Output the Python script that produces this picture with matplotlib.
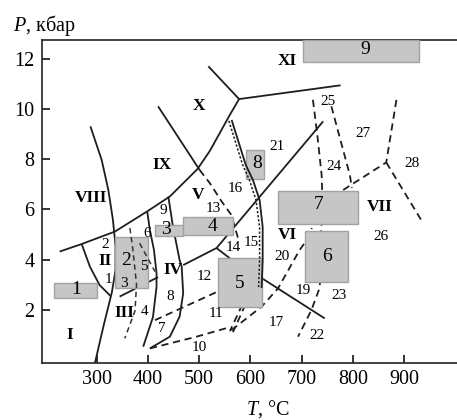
import matplotlib
matplotlib.use('Agg')
import matplotlib.pyplot as plt
from matplotlib.patches import Rectangle

plt.rcParams['font.family'] = ['Liberation Serif', 'DejaVu Serif']
plt.rcParams['mathtext.fontset'] = 'custom'
plt.rcParams['mathtext.it'] = 'Liberation Serif:italic'
plt.rcParams['mathtext.rm'] = 'Liberation Serif'

# phase boundaries, T in degC, P in kbar
viii_T = [288, 310, 323, 332, 337, 337, 330, 314, 297]
viii_P = [9.32, 7.98, 6.78, 5.58, 4.54, 3.58, 2.70, 1.38, -0.12]

long_T = [228, 271, 336, 400, 443, 497, 521, 560, 578]
long_P = [4.32, 4.62, 5.12, 5.94, 6.52, 7.62, 8.34, 9.78, 10.41]

xi_T = [518, 578, 776]
xi_P = [11.72, 10.41, 10.96]

ixx_T = [420, 501]
ixx_P = [10.12, 7.58]
ixx_dash_T = [501, 521, 544, 563, 576]
ixx_dash_P = [7.58, 7.05, 6.32, 5.78, 4.85]

a_T = [399, 404, 412, 417, 417, 410, 391]
a_P = [5.90, 5.18, 4.38, 3.46, 2.90, 1.70, 0.52]

b_T = [440, 449, 462, 466, 469, 462, 443, 404]
b_P = [6.52, 5.32, 3.98, 3.72, 2.65, 1.72, 0.92, 0.45]

c_T = [271, 287, 306, 327]
c_P = [4.62, 3.72, 2.98, 2.55]

d_T = [345, 420]
d_P = [2.52, 3.30]

j2_T = [469, 534, 742]
j2_P = [3.78, 4.46, 9.52]
j2b_T = [534, 560]
j2b_P = [4.46, 4.05]

s_T = [564, 591, 605, 618, 624, 624, 622]
s_P = [9.54, 7.78, 7.18, 6.38, 5.30, 3.98, 2.90]
sd_T = [558, 585, 598, 611, 618, 618, 616]
sd_P = [9.54, 7.78, 7.18, 6.38, 5.30, 3.98, 2.90]
s_low_T = [622, 588, 566]
s_low_P = [2.90, 2.10, 1.10]
sd_low_T = [616, 582, 560]
sd_low_P = [2.90, 2.10, 1.14]

k_T = [622, 745]
k_P = [3.26, 1.65]

g_T = [414, 534]
g_P = [1.58, 2.70]

h_T = [404, 495, 560]
h_P = [0.45, 0.92, 1.30]

i_T = [563, 622, 654, 696, 708, 720]
i_P = [1.18, 2.12, 2.85, 4.38, 4.72, 5.26]

m_T = [722, 731, 739, 741, 737, 737, 735, 719, 693]
m_P = [10.38, 8.90, 7.38, 6.18, 4.78, 3.50, 2.86, 1.98, 0.92]

n_T = [758, 794, 798]
n_P = [10.12, 7.38, 6.86]

o_T = [781, 865, 886]
o_P = [6.78, 7.88, 10.52]
o2_T = [865, 937]
o2_P = [7.88, 5.45]

e_T = [365, 371, 378, 375, 355]
e_P = [5.26, 4.38, 3.00, 1.95, 0.85]
f_T = [384, 414]
f_P = [4.65, 3.52]

# sample boxes
box_names = ['1', '2', '3', '4', '5', '6', '7', '8', '9']
box_T0 = [217, 336, 414, 468, 537, 706, 654, 592, 702]
box_T1 = [300, 401, 469, 567, 622, 790, 810, 626, 928]
box_P0 = [2.45, 2.85, 4.94, 4.98, 2.12, 3.11, 5.42, 7.21, 11.91]
box_P1 = [3.08, 4.92, 5.38, 5.68, 4.05, 5.14, 6.74, 8.38, 12.77]
box_lab_T = [260, 357, 435, 527, 579, 750, 734, 613, 824]
box_lab_P = [2.81, 3.98, 5.22, 5.34, 3.06, 4.14, 6.18, 7.85, 12.38]

roman = ['I', 'II', 'III', 'IV', 'V', 'VI', 'VII', 'VIII', 'IX', 'X', 'XI']
roman_T = [247, 316, 355, 449, 498, 673, 852, 290, 428, 500, 672]
roman_P = [0.98, 3.94, 1.85, 3.58, 6.58, 4.98, 6.09, 6.45, 7.76, 10.14, 11.92]

nums = ['1', '2', '3', '4', '5', '6', '7', '8', '9', '10', '11', '12', '13',
        '14', '15', '16', '17', '19', '20', '21', '22', '23', '24', '25',
        '26', '27', '28']
nums_T = [324, 316, 353, 393, 392, 398, 427, 444, 430, 501, 532, 511, 527,
          566, 602, 570, 651, 704, 661, 651, 729, 772, 764, 751, 855, 819, 916]
nums_P = [3.22, 4.61, 3.05, 1.94, 3.72, 5.05, 1.25, 2.52, 5.96, 0.48, 1.86,
          3.34, 6.02, 4.49, 4.69, 6.85, 1.48, 2.76, 4.12, 8.52, 0.98, 2.56,
          7.72, 10.32, 4.94, 9.05, 7.85]

fig = plt.figure(figsize=(4.57, 4.2), dpi=100)
ax = fig.add_axes([0.0912, 0.1364, 0.9088, 0.7684])

lc = '#1e1e1e'
solid = dict(color=lc, lw=1.3, zorder=2, solid_capstyle='butt')
dashed = dict(color=lc, lw=1.3, zorder=2, ls=(0, (4, 2.6)))

for T, P in [(viii_T, viii_P), (long_T, long_P), (xi_T, xi_P), (ixx_T, ixx_P),
             (a_T, a_P), (b_T, b_P), (c_T, c_P), (d_T, d_P), (j2_T, j2_P),
             (j2b_T, j2b_P), (k_T, k_P)]:
    ax.plot(T, P, **solid)

for T, P in [(ixx_dash_T, ixx_dash_P), (g_T, g_P), (h_T, h_P), (i_T, i_P),
             (m_T, m_P), (n_T, n_P), (o_T, o_P), (o2_T, o2_P),
             (s_low_T, s_low_P), (sd_low_T, sd_low_P)]:
    ax.plot(T, P, **dashed)

ax.plot(s_T, s_P, color=lc, lw=1.3, zorder=4)
ax.plot(sd_T, sd_P, color=lc, lw=1.1, zorder=4, ls=(0, (1.5, 1.2)))

for i in range(len(box_names)):
    ax.add_patch(Rectangle((box_T0[i], box_P0[i]), box_T1[i] - box_T0[i],
                           box_P1[i] - box_P0[i], facecolor='#c6c6c6',
                           edgecolor='#a2a2a2', lw=1.0, zorder=3))
    ax.text(box_lab_T[i], box_lab_P[i], box_names[i], fontsize=14,
            ha='center', va='center', zorder=5)

# dashed traces inside box 2 sit on top of the box
ax.plot(e_T, e_P, color='#333333', lw=1.1, zorder=4, ls=(0, (3.5, 2.5)))
ax.plot(f_T, f_P, color='#333333', lw=1.1, zorder=4, ls=(0, (3.5, 2.5)))

for s, t, p in zip(roman, roman_T, roman_P):
    ax.text(t, p, s, fontsize=12.5, fontweight='bold', ha='center',
            va='center', zorder=5)
for s, t, p in zip(nums, nums_T, nums_P):
    ax.text(t, p, s, fontsize=11, ha='center', va='center', zorder=5)

ax.set_xlim(193, 1003)
ax.set_ylim(-0.12, 12.77)
ax.set_xticks([300, 400, 500, 600, 700, 800, 900])
ax.set_yticks([2, 4, 6, 8, 10, 12])
ax.tick_params(direction='in', length=6, width=1.1, labelsize=14.5, pad=5,
               colors='black')
ax.spines['right'].set_visible(False)
for sp in ['left', 'bottom', 'top']:
    ax.spines[sp].set_linewidth(1.2)
    ax.spines[sp].set_color('#222222')

fig.text(0.028, 0.940, '$P$, кбар', fontsize=14.5, ha='left', va='center')
fig.text(0.585, 0.026, '$T$, °C', fontsize=14.5, ha='center', va='center')

fig.savefig('out.png', dpi=100)
